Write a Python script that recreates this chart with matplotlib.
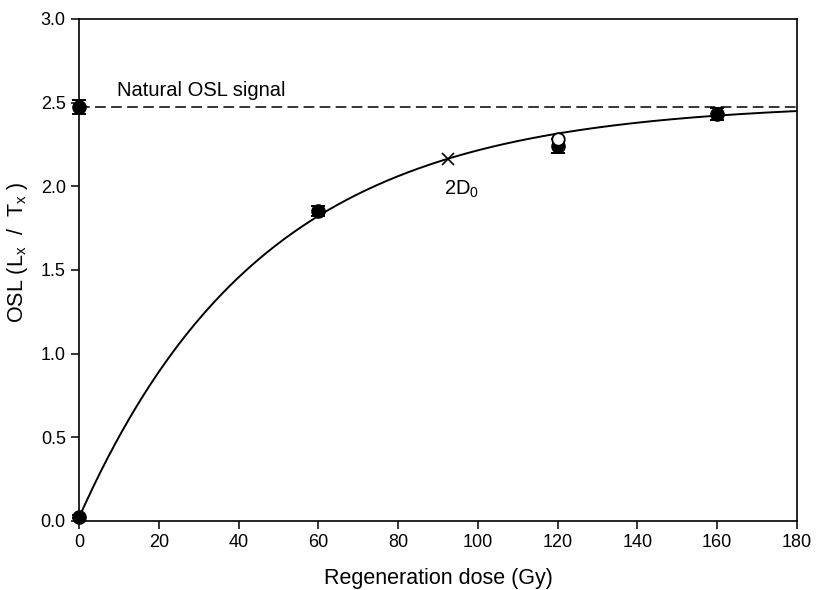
import numpy as np
import matplotlib
matplotlib.use("Agg")
import matplotlib.pyplot as plt

plt.rcParams['font.family'] = ['Liberation Sans', 'DejaVu Sans']

# Regeneration points (filled)
dose = [0, 60, 120, 160]
lxtx = [0.025, 1.85, 2.24, 2.43]
lxtx_err = [0.01, 0.03, 0.04, 0.035]

# Natural signal
natural_dose = [0]
natural_val = [2.474]
natural_err = [0.04]

# Recycling point (open)
recycle_dose = [120]
recycle_val = [2.28]

# Saturating exponential fit parameters: y = A*(1-exp(-D/D0)) + C
fit_A = 2.48
fit_D0 = 46.25
fit_C = 0.02
fit_dmax = 180

natural_level = 2.474

fig = plt.figure(figsize=(8.17, 5.90), dpi=100)
ax = fig.add_axes([0.0967, 0.117, 0.8788, 0.851])

d = np.linspace(0, fit_dmax, 400)
ax.plot(d, fit_A * (1 - np.exp(-d / fit_D0)) + fit_C, color='black', lw=1.4, zorder=2)

ax.axhline(natural_level, color='black', lw=1.1, dashes=(7, 3.5), zorder=1)

ax.errorbar(dose, lxtx, yerr=lxtx_err, fmt='o', color='black', ms=9.5,
            capsize=5, elinewidth=1.2, capthick=1.4, clip_on=False, zorder=4)
ax.errorbar(natural_dose, natural_val, yerr=natural_err, fmt='o', color='black', ms=9.5,
            capsize=5, elinewidth=1.2, capthick=1.4, clip_on=False, zorder=4)
ax.plot(recycle_dose, recycle_val, 'o', mfc='white', mec='black', mew=1.3, ms=9, zorder=5)

# 2D0 marker
d2 = 2 * fit_D0
ax.plot([d2], [fit_A * (1 - np.exp(-2)) + fit_C], marker='x', color='black', ms=8, mew=1.2, zorder=5)
ax.text(91.5, 1.98, r'$\mathregular{2D_0}$', fontsize=14.5, ha='left', va='center')

ax.text(9.5, 2.57, 'Natural OSL signal', fontsize=14.5, ha='left', va='center')

ax.set_xlim(0, 180)
ax.set_ylim(0, 3.0)
ax.set_xticks(np.arange(0, 181, 20))
ax.set_yticks(np.arange(0, 3.01, 0.5))
ax.set_yticklabels([f'{v:.1f}' for v in np.arange(0, 3.01, 0.5)])
ax.tick_params(axis='both', direction='out', length=6, width=1.1, labelsize=13,
               top=False, right=False)
for s in ax.spines.values():
    s.set_linewidth(1.2)

ax.set_xlabel('Regeneration dose (Gy)', fontsize=15.5, labelpad=12)
ax.set_ylabel(r'OSL (L$_\mathregular{x}$  /  T$_\mathregular{x}$ )', fontsize=15.5)
ax.yaxis.set_label_coords(-0.068, 0.535)

fig.savefig('out.png', dpi=100)
